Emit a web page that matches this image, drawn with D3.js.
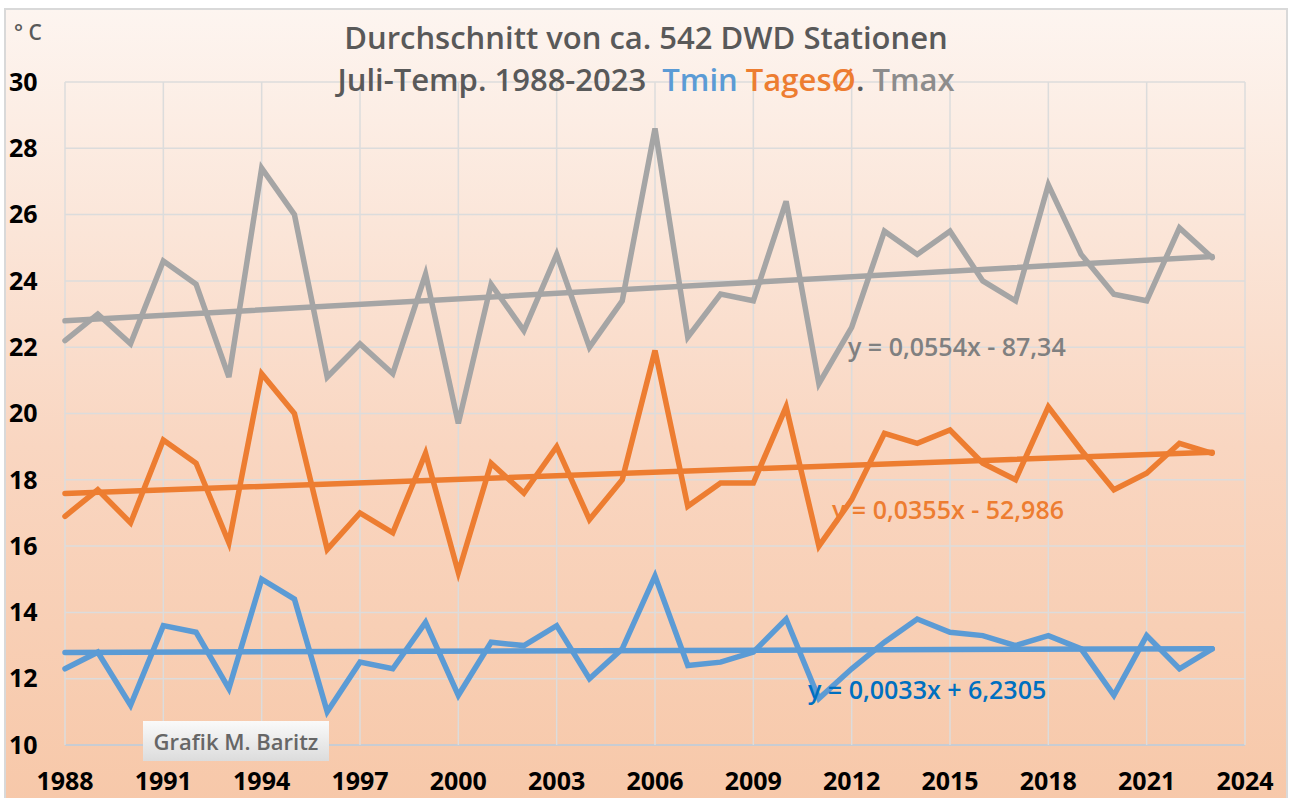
<!DOCTYPE html>
<html>
<head>
<meta charset="utf-8">
<script src="https://cdn.jsdelivr.net/npm/d3@7"></script>
<style>
  body { margin: 0; background: #fff; }
  svg { display: block; font-family: "Open Sans", Lato, sans-serif; }
</style>
</head>
<body>
<svg id="chart" width="1290" height="798"></svg>
<script>
// Jahre und Werte (Juli, °C)
const years = d3.range(1988, 2024);
const tmax = [22.2, 23.0, 22.1, 24.6, 23.9, 21.1, 27.4, 26.0, 21.1, 22.1, 21.2, 24.2,
  19.7, 23.9, 22.5, 24.8, 22.0, 23.4, 28.6, 22.3, 23.6, 23.4, 26.4, 20.9,
  22.6, 25.5, 24.8, 25.5, 24.0, 23.4, 26.9, 24.8, 23.6, 23.4, 25.6, 24.7];
const tmittel = [16.9, 17.7, 16.7, 19.2, 18.5, 16.1, 21.2, 20.0, 15.9, 17.0, 16.4, 18.8,
  15.2, 18.5, 17.6, 19.0, 16.8, 18.0, 21.9, 17.2, 17.9, 17.9, 20.2, 16.0,
  17.4, 19.4, 19.1, 19.5, 18.5, 18.0, 20.2, 18.9, 17.7, 18.2, 19.1, 18.8];
const tmin = [12.3, 12.8, 11.2, 13.6, 13.4, 11.7, 15.0, 14.4, 11.0, 12.5, 12.3, 13.7,
  11.5, 13.1, 13.0, 13.6, 12.0, 12.9, 15.1, 12.4, 12.5, 12.8, 13.8, 11.4,
  12.3, 13.1, 13.8, 13.4, 13.3, 13.0, 13.3, 12.9, 11.5, 13.3, 12.3, 12.9];

// Trendlinien (Excel): y = a*x + b
const trendSlope = [0.0554, 0.0355, 0.0033];
const trendIntercept = [-87.34, -52.986, 6.2305];
const trendLabels = ["y = 0,0554x - 87,34", "y = 0,0355x - 52,986", "y = 0,0033x + 6,2305"];

const xTicks = d3.range(1988, 2025, 3);
const yTicks = d3.range(10, 31, 2);

const svg = d3.select("#chart");

// Hintergrund mit Verlauf
const defs = svg.append("defs");
const bg = defs.append("linearGradient").attr("id", "bg")
  .attr("x1", 0).attr("y1", 0).attr("x2", 0).attr("y2", 1);
bg.append("stop").attr("offset", "0%").attr("stop-color", "#fdf5f0");
bg.append("stop").attr("offset", "55%").attr("stop-color", "#f9d6c1");
bg.append("stop").attr("offset", "100%").attr("stop-color", "#f7c8a9");

const box = defs.append("linearGradient").attr("id", "box")
  .attr("x1", 0).attr("y1", 0).attr("x2", 0).attr("y2", 1);
box.append("stop").attr("offset", "0%").attr("stop-color", "#fafafa");
box.append("stop").attr("offset", "100%").attr("stop-color", "#dcdcdc");

svg.append("rect")
  .attr("x", 5).attr("y", 9).attr("width", 1282).attr("height", 795)
  .attr("fill", "url(#bg)").attr("stroke", "#d9d9d9").attr("stroke-width", 2);

const x = d3.scaleLinear().domain([1988, 2024]).range([65, 1245]);
const y = d3.scaleLinear().domain([10, 30]).range([745, 82]);

// Gitter
svg.append("g").selectAll("line.h").data(yTicks).join("line")
  .attr("x1", x(1988)).attr("x2", x(2024))
  .attr("y1", d => y(d)).attr("y2", d => y(d))
  .attr("stroke", d => d === 10 ? "#b9cde0" : "#dcdcdc").attr("stroke-width", 1.5);
svg.append("g").selectAll("line.v").data(xTicks).join("line")
  .attr("x1", d => x(d)).attr("x2", d => x(d))
  .attr("y1", y(30)).attr("y2", y(10))
  .attr("stroke", "#dcdcdc").attr("stroke-width", 1.5);

// Achsenbeschriftung
svg.append("g").selectAll("text").data(yTicks).join("text")
  .attr("x", 9).attr("y", d => y(d)).attr("dy", "0.35em")
  .attr("font-size", 25).attr("font-weight", "bold").attr("fill", "#000")
  .text(d => d);
svg.append("g").selectAll("text").data(xTicks).join("text")
  .attr("x", d => x(d)).attr("y", 781).attr("dy", "0.35em")
  .attr("text-anchor", "middle")
  .attr("font-size", 25).attr("font-weight", "bold").attr("fill", "#000")
  .text(d => d);

svg.append("text").attr("x", 14).attr("y", 33).attr("dy", "0.35em")
  .attr("font-size", 21).attr("font-weight", 600).attr("fill", "#595959")
  .text("° C");

// Linien
const series = [
  { values: tmax, color: "#a5a5a5" },
  { values: tmittel, color: "#ed7d31" },
  { values: tmin, color: "#5b9bd5" }
];
const line = d3.line().x((d, i) => x(years[i])).y(d => y(d));

series.forEach(function (s, k) {
  const a = trendSlope[k], b = trendIntercept[k];
  const ends = [years[0], years[years.length - 1]];
  svg.append("line")
    .attr("x1", x(ends[0])).attr("y1", y(a * ends[0] + b))
    .attr("x2", x(ends[1])).attr("y2", y(a * ends[1] + b))
    .attr("stroke", s.color).attr("stroke-width", 5.5).attr("stroke-linecap", "round");
  svg.append("path").datum(s.values)
    .attr("d", line)
    .attr("fill", "none").attr("stroke", s.color)
    .attr("stroke-width", 5.5).attr("stroke-linejoin", "miter").attr("stroke-linecap", "round");
});

// Trendgleichungen
const labelPos = [[848, 347], [832, 510], [808, 690]];
const labelColor = ["#808080", "#ed7d31", "#0070c0"];
trendLabels.forEach(function (t, k) {
  svg.append("text")
    .attr("x", labelPos[k][0]).attr("y", labelPos[k][1]).attr("dy", "0.35em")
    .attr("font-size", 25).attr("font-weight", 600).attr("fill", labelColor[k])
    .text(t);
});

// Titel
svg.append("text").attr("x", 646).attr("y", 38).attr("dy", "0.35em")
  .attr("text-anchor", "middle").attr("font-size", 31).attr("font-weight", 600)
  .attr("fill", "#595959").text("Durchschnitt von ca. 542 DWD Stationen");
const t2 = svg.append("text").attr("x", 646).attr("y", 80).attr("dy", "0.35em")
  .attr("text-anchor", "middle").attr("font-size", 31).attr("font-weight", 600)
  .attr("fill", "#595959");
t2.append("tspan").text("Juli-Temp. 1988-2023\u00a0\u00a0");
t2.append("tspan").attr("fill", "#5b9bd5").text("Tmin ");
t2.append("tspan").attr("fill", "#ed7d31").text("TagesØ");
t2.append("tspan").text(". ");
t2.append("tspan").attr("fill", "#8c8c8c").text("Tmax");

// Quelle
svg.append("rect").attr("x", 143).attr("y", 721).attr("width", 186).attr("height", 40)
  .attr("fill", "url(#box)");
svg.append("text").attr("x", 236).attr("y", 742).attr("dy", "0.35em")
  .attr("text-anchor", "middle").attr("font-size", 22).attr("font-weight", 600)
  .attr("fill", "#666").text("Grafik M. Baritz");
</script>
</body>
</html>
